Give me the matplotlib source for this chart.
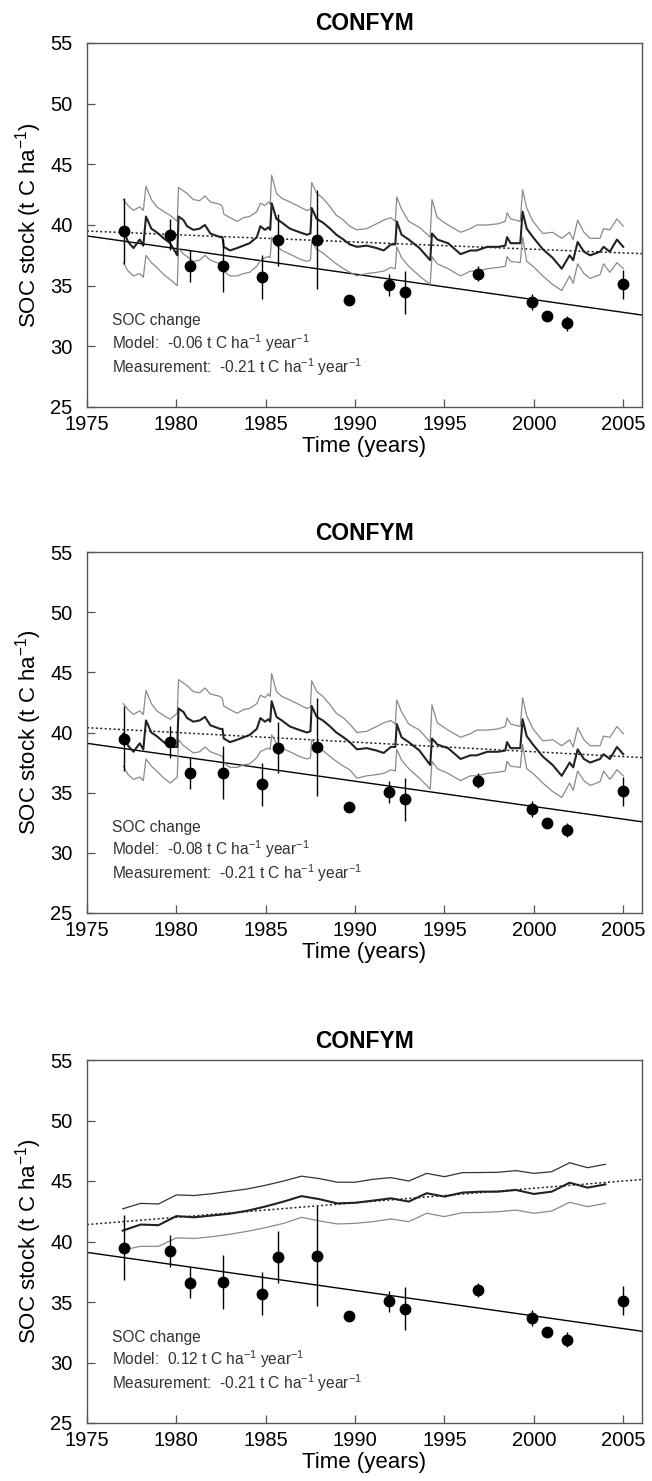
import numpy as np
import matplotlib
matplotlib.use("Agg")
import matplotlib.pyplot as plt

plt.rcParams['font.family'] = ['Liberation Sans', 'DejaVu Sans']
plt.rcParams['mathtext.fontset'] = 'custom'
plt.rcParams['mathtext.rm'] = 'Liberation Sans'
plt.rcParams['mathtext.it'] = 'Liberation Sans'
plt.rcParams['mathtext.default'] = 'regular'

# ---------------- measurements ----------------
meas_year = [1977.06, 1979.64, 1980.76, 1982.60, 1984.77, 1985.69, 1987.85, 1989.63,
             1991.87, 1992.77, 1996.88, 1999.88, 2000.74, 2001.84, 2004.97]
meas_soc = [39.5, 39.2, 36.6, 36.65, 35.7, 38.75, 38.8, 33.85,
            35.05, 34.45, 36.0, 33.65, 32.5, 31.9, 35.1]
meas_err = [2.7, 1.3, 1.3, 2.2, 1.8, 2.15, 4.1, 0.3,
            0.9, 1.8, 0.6, 0.65, 0.3, 0.6, 1.2]

meas_trend_start = 39.1      # value of measurement trend at 1975
meas_trend_slope = -0.21

# ---------------- panel 1 model (monthly) ----------------
t1 = [1977.03, 1977.3, 1977.6, 1977.95, 1978.15, 1978.3, 1978.6, 1978.9, 1979.3, 1979.65,
      1980.05, 1980.12, 1980.4, 1980.6, 1980.95, 1981.3, 1981.6, 1981.9, 1982.45, 1982.58,
      1982.65, 1983.0, 1983.4, 1983.75, 1984.1, 1984.5, 1984.7, 1984.95, 1985.15, 1985.25,
      1985.33, 1985.6, 1985.9, 1986.35, 1986.9, 1987.3, 1987.5, 1987.57, 1987.85, 1988.2,
      1988.6, 1988.95, 1989.35, 1989.7, 1990.1, 1990.65, 1991.2, 1991.6, 1992.0, 1992.25,
      1992.33, 1992.6, 1993.0, 1993.6, 1994.2, 1994.3, 1994.6, 1995.2, 1995.9, 1996.45,
      1996.8, 1997.4, 1998.0, 1998.4, 1998.5, 1998.7, 1999.24, 1999.37, 1999.6, 1999.95,
      2000.5, 2001.05, 2001.56, 2002.0, 2002.2, 2002.45, 2002.8, 2003.15, 2003.7, 2003.9,
      2004.25, 2004.65, 2005.0]
mean1 = [39.6, 38.6, 38.1, 38.8, 38.3, 40.7, 39.7, 39.4, 38.9, 38.5,
         37.5, 40.7, 40.4, 39.9, 39.6, 39.7, 40.0, 39.3, 39.0, 39.0,
         38.2, 37.9, 38.1, 38.3, 38.5, 39.0, 39.9, 39.6, 39.8, 39.6,
         41.8, 40.5, 40.2, 39.7, 39.4, 39.2, 39.3, 41.4, 40.5, 40.2,
         39.7, 39.2, 38.8, 38.4, 38.2, 38.3, 38.1, 37.9, 38.4, 38.4,
         40.3, 39.2, 38.8, 38.1, 37.1, 39.3, 38.8, 38.5, 37.6, 37.9,
         37.9, 38.2, 38.2, 38.3, 39.0, 38.5, 38.5, 41.1, 39.7, 39.0,
         38.0, 37.3, 36.4, 37.5, 37.1, 38.6, 37.8, 37.5, 37.8, 38.2,
         37.8, 38.8, 38.2]
upper1 = [42.1, 41.6, 41.2, 41.5, 41.2, 43.2, 42.1, 41.5, 41.1, 40.8,
          40.3, 43.1, 42.8, 42.6, 42.1, 42.0, 42.4, 41.9, 41.7, 41.5,
          40.9, 40.6, 40.3, 40.6, 40.7, 41.1, 41.8, 41.6, 41.9, 41.7,
          44.1, 42.6, 42.2, 41.9, 41.5, 41.2, 41.3, 43.5, 42.6, 42.2,
          41.5, 40.8, 40.4, 39.9, 39.6, 39.7, 40.1, 40.4, 40.6, 40.3,
          42.3, 41.3, 40.3, 39.8, 39.0, 42.1, 40.6, 40.0, 39.4, 39.7,
          40.0, 40.0, 40.1, 40.3, 41.0, 40.5, 40.3, 42.9, 41.4, 40.3,
          39.3, 39.4, 38.9, 39.4, 38.8, 40.4, 39.4, 38.9, 38.9, 39.7,
          39.6, 40.5, 39.9]
lower1 = [36.9, 36.2, 35.8, 36.0, 35.7, 37.5, 36.9, 36.5, 35.9, 35.5,
          35.0, 38.1, 37.6, 37.4, 37.0, 37.1, 37.5, 37.1, 36.8, 36.7,
          36.2, 35.8, 35.8, 36.0, 36.1, 36.6, 37.1, 37.3, 37.4, 37.3,
          39.0, 38.3, 37.9, 37.6, 37.2, 37.0, 37.1, 38.6, 38.0, 37.7,
          37.2, 36.8, 36.4, 36.1, 35.8, 36.0, 36.1, 36.2, 36.5, 36.4,
          38.2, 37.3, 36.6, 35.8, 35.1, 37.4, 36.8, 36.4, 35.8, 36.2,
          36.2, 36.4, 36.5, 36.6, 37.4, 37.0, 36.9, 39.0, 37.0, 36.6,
          35.8, 35.1, 34.6, 35.8, 35.2, 36.8, 36.0, 35.6, 35.9, 36.8,
          36.1, 36.9, 36.4]
model_trend1_start = 39.5
model_trend1_slope = -0.06

# ---------------- panel 2 model (monthly) ----------------
t2 = t1
mean2 = [39.9, 38.9, 38.4, 39.1, 38.6, 41.0, 40.0, 39.7, 39.2, 38.8,
         38.8, 42.0, 41.7, 41.2, 40.9, 41.0, 41.3, 40.6, 40.3, 40.3,
         39.5, 39.2, 39.4, 39.6, 39.8, 40.3, 41.2, 40.9, 41.1, 40.9,
         42.6, 41.3, 41.0, 40.5, 40.2, 40.0, 40.1, 42.2, 41.3, 41.0,
         40.5, 40.0, 39.6, 39.2, 38.6, 38.7, 38.5, 38.3, 38.8, 38.8,
         40.7, 39.6, 39.2, 38.5, 37.3, 39.5, 39.0, 38.7, 37.8, 38.1,
         38.1, 38.4, 38.4, 38.5, 39.2, 38.7, 38.7, 41.1, 39.7, 39.0,
         38.0, 37.3, 36.4, 37.5, 37.1, 38.6, 37.8, 37.5, 37.8, 38.2,
         37.8, 38.8, 38.2]
upper2 = [42.4, 41.9, 41.5, 41.8, 41.5, 43.5, 42.4, 41.8, 41.4, 41.1,
          41.6, 44.4, 44.1, 43.9, 43.4, 43.3, 43.7, 43.2, 43.0, 42.8,
          42.2, 41.9, 41.6, 41.9, 42.0, 42.4, 43.1, 42.9, 43.2, 43.0,
          44.9, 43.4, 43.0, 42.7, 42.3, 42.0, 42.1, 44.3, 43.4, 43.0,
          42.3, 41.6, 41.2, 40.7, 40.0, 40.1, 40.5, 40.8, 41.0, 40.7,
          42.7, 41.7, 40.7, 40.2, 39.2, 42.3, 40.8, 40.2, 39.6, 39.9,
          40.2, 40.2, 40.3, 40.5, 41.2, 40.7, 40.5, 42.9, 41.4, 40.3,
          39.3, 39.4, 38.9, 39.4, 38.8, 40.4, 39.4, 38.9, 38.9, 39.7,
          39.6, 40.5, 39.9]
lower2 = [37.2, 36.5, 36.1, 36.3, 36.0, 37.8, 37.2, 36.8, 36.2, 35.8,
          36.3, 39.4, 38.9, 38.7, 38.3, 38.4, 38.8, 38.4, 38.1, 38.0,
          37.5, 37.1, 37.1, 37.3, 37.4, 37.9, 38.4, 38.6, 38.7, 38.6,
          39.8, 39.1, 38.7, 38.4, 38.0, 37.8, 37.9, 39.4, 38.8, 38.5,
          38.0, 37.6, 37.2, 36.9, 36.2, 36.4, 36.5, 36.6, 36.9, 36.8,
          38.6, 37.7, 37.0, 36.2, 35.3, 37.6, 37.0, 36.6, 36.0, 36.4,
          36.4, 36.6, 36.7, 36.8, 37.6, 37.2, 37.1, 39.0, 37.0, 36.6,
          35.8, 35.1, 34.6, 35.8, 35.2, 36.8, 36.0, 35.6, 35.9, 36.8,
          36.1, 36.9, 36.4]
model_trend2_start = 40.4
model_trend2_slope = -0.08

# ---------------- panel 3 model (annual) ----------------
t3 = [1977, 1978, 1979, 1980, 1981, 1982, 1983, 1984, 1985, 1986, 1987, 1988, 1989, 1990,
      1991, 1992, 1993, 1994, 1995, 1996, 1997, 1998, 1999, 2000, 2001, 2002, 2003, 2004]
mean3 = [40.9, 41.4, 41.35, 42.1, 42.0, 42.15, 42.3, 42.55, 42.9, 43.3, 43.75, 43.5, 43.15, 43.2,
         43.38, 43.57, 43.3, 43.99, 43.71, 44.04, 44.12, 44.12, 44.26, 43.93, 44.12, 44.86, 44.45, 44.72]
upper3 = [42.7, 43.15, 43.1, 43.85, 43.8, 43.95, 44.15, 44.35, 44.65, 45.0, 45.4, 45.2, 44.9, 44.9,
          45.14, 45.28, 45.0, 45.63, 45.36, 45.69, 45.7, 45.72, 45.86, 45.63, 45.77, 46.51, 46.1, 46.38]
lower3 = [39.3, 39.6, 39.6, 40.3, 40.25, 40.4, 40.6, 40.85, 41.15, 41.5, 42.0, 41.7, 41.45, 41.5,
          41.64, 41.86, 41.64, 42.33, 42.06, 42.38, 42.4, 42.46, 42.6, 42.33, 42.52, 43.24, 42.88, 43.15]
model_trend3_start = 41.4
model_trend3_slope = 0.12

model_rates = ["-0.06", "-0.08", "0.12"]
meas_rate = "-0.21"

xticks = [1975, 1980, 1985, 1990, 1995, 2000, 2005]
yticks = [25, 30, 35, 40, 45, 50, 55]

panels = [
    (t1, mean1, upper1, lower1, model_trend1_start, model_trend1_slope, '#8a8a8a', '#8a8a8a'),
    (t2, mean2, upper2, lower2, model_trend2_start, model_trend2_slope, '#8a8a8a', '#8a8a8a'),
    (t3, mean3, upper3, lower3, model_trend3_start, model_trend3_slope, '#333333', '#8a8a8a'),
]

W, H = 652, 1481
fig = plt.figure(figsize=(W / 100, H / 100), dpi=100)
ax_px = [(43, 407), (552, 913), (1060, 1423)]
left_px, right_px = 87, 642

spine_col = '#555555'
for i, ((top, bot), p) in enumerate(zip(ax_px, panels)):
    t, mn, up, lo, ts, tsl, ucol, lcol = p
    ax = fig.add_axes([left_px / W, 1 - bot / H, (right_px - left_px) / W, (bot - top) / H])
    xs = np.array([1975, 2006.05])
    # measurement trend
    ax.plot(xs, meas_trend_start + meas_trend_slope * (xs - 1975), color='black', lw=1.0, zorder=2)
    # model trend
    ax.plot(xs, ts + tsl * (xs - 1975), color='#222222', lw=1.1, ls=(0, (1.3, 1.6)), zorder=2)
    # model bands
    ax.plot(t, up, color=ucol, lw=0.9, zorder=3)
    ax.plot(t, lo, color=lcol, lw=0.9, zorder=3)
    ax.plot(t, mn, color='#222222', lw=1.5, zorder=4)
    # measurements
    ax.errorbar(meas_year, meas_soc, yerr=meas_err, fmt='o', color='black', ms=7.5,
                elinewidth=1.0, capsize=0, zorder=5)
    ax.set_xlim(1975, 2006.05)
    ax.set_ylim(25, 55)
    ax.set_xticks(xticks)
    ax.set_yticks(yticks)
    ax.tick_params(direction='in', length=5.5, width=0.9, color=spine_col,
                   labelsize=14.5, top=False, right=False)
    ax.tick_params(axis='y', pad=10.5)
    ax.tick_params(axis='x', pad=5.5)
    for s in ax.spines.values():
        s.set_color(spine_col)
        s.set_linewidth(1.0)
    ax.set_title('CONFYM', fontsize=16.5, fontweight='bold', pad=9)
    ax.set_xlabel('Time (years)', fontsize=16, labelpad=2)
    ax.set_ylabel('SOC stock (t C ha$^{-1}$)', fontsize=16, labelpad=4)
    tc = '#333333'
    ax.text(1976.4, 32.1, 'SOC change', fontsize=11.2, color=tc, va='center', ha='left')
    ax.text(1976.4, 30.3, 'Model:  ' + model_rates[i] + ' t C ha$^{-1}$ year$^{-1}$',
            fontsize=11.2, color=tc, va='center', ha='left')
    ax.text(1976.4, 28.3, 'Measurement:  ' + meas_rate + ' t C ha$^{-1}$ year$^{-1}$',
            fontsize=11.2, color=tc, va='center', ha='left')

fig.savefig('out.png', dpi=100)
